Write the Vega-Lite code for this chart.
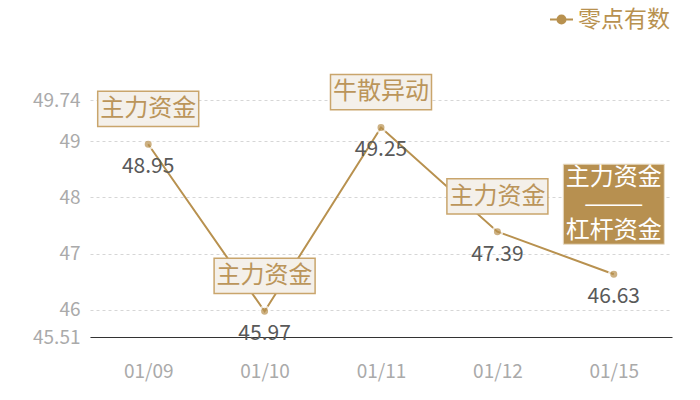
{
  "$schema": "https://vega.github.io/schema/vega-lite/v6.json",
  "width": 582,
  "height": 237,
  "autosize": {"type": "none"},
  "padding": {"left": 90, "top": 100, "right": 28, "bottom": 63},
  "background": "white",
  "config": {
    "view": {"stroke": null},
    "font": "Noto Sans CJK SC"
  },
  "data": {
    "values": [
      {"date": "01/09", "value": 48.95, "series": "零点有数", "note": "主力资金"},
      {"date": "01/10", "value": 45.97, "series": "零点有数", "note": "主力资金"},
      {"date": "01/11", "value": 49.25, "series": "零点有数", "note": "牛散异动"},
      {"date": "01/12", "value": 47.39, "series": "零点有数", "note": "主力资金"},
      {"date": "01/15", "value": 46.63, "series": "零点有数", "note": "主力资金\n———\n杠杆资金"}
    ]
  },
  "encoding": {
    "x": {
      "field": "date",
      "type": "ordinal",
      "sort": null,
      "scale": {"type": "point", "padding": 0.5},
      "axis": {
        "title": null,
        "labelAngle": 0,
        "ticks": false,
        "domainColor": "#333333",
        "domainWidth": 1,
        "labelColor": "#aaaaaa",
        "labelFontSize": 19,
        "labelBaseline": "middle",
        "labelPadding": 34,
        "grid": false
      }
    },
    "y": {
      "field": "value",
      "type": "quantitative",
      "scale": {"domain": [45.51, 49.74], "nice": false, "zero": false},
      "axis": {
        "title": null,
        "values": [45.51, 46, 47, 48, 49, 49.74],
        "labelExpr": "toString(datum.value)",
        "domain": false,
        "ticks": false,
        "labelColor": "#aaaaaa",
        "labelFontSize": 19,
        "labelPadding": 10,
        "gridColor": "#d6d6d6",
        "gridDash": [3, 3],
        "gridWidth": 1
      }
    }
  },
  "layer": [
    {
      "mark": {"type": "line", "strokeWidth": 2},
      "encoding": {
        "color": {
          "field": "series",
          "type": "nominal",
          "scale": {"range": ["#b8914f"]},
          "legend": {
            "title": null,
            "orient": "none",
            "legendX": 459,
            "legendY": -93,
            "symbolType": "M-1,0H-0.35M0.35,0H1M-0.35,0A0.35,0.35,0,1,0,0.35,0A0.35,0.35,0,1,0,-0.35,0Z",
            "symbolSize": 529,
            "symbolStrokeWidth": 2,
            "symbolFillColor": "#b8914f",
            "symbolStrokeColor": "#b8914f",
            "labelFontSize": 23,
            "labelColor": "#b8914f",
            "labelOffset": 4,
            "labelLimit": 200
          }
        }
      }
    },
    {
      "mark": {"type": "point", "filled": true, "size": 90, "fill": "#b8914f", "stroke": "white", "strokeWidth": 2.5, "strokeOpacity": 1}
    },
    {
      "mark": {"type": "text", "dy": 23, "fontSize": 21, "color": "#595959", "baseline": "middle"},
      "encoding": {"text": {"field": "value", "type": "quantitative", "format": ".2f"}}
    },
    {
      "transform": [{"filter": "datum.date != '01/15'"}],
      "mark": {
        "type": "point",
        "shape": "M-1,-1.05H1V-0.35H-1Z",
        "size": 10201,
        "filled": true,
        "fill": "#f4f0ea",
        "fillOpacity": 1,
        "stroke": "#c9a56c",
        "strokeWidth": 1.5,
        "strokeOpacity": 1
      }
    },
    {
      "transform": [{"filter": "datum.date != '01/15'"}],
      "mark": {"type": "text", "dy": -35, "fontSize": 24, "color": "#bb955a", "baseline": "middle"},
      "encoding": {"text": {"field": "note"}}
    },
    {
      "transform": [{"filter": "datum.date == '01/15'"}],
      "mark": {
        "type": "point",
        "shape": "M-1,-2.18H1V-0.594H-1Z",
        "size": 10201,
        "filled": true,
        "fill": "#b79050",
        "fillOpacity": 1,
        "stroke": "#e8dcc6",
        "strokeWidth": 1,
        "strokeOpacity": 1
      }
    },
    {
      "transform": [{"filter": "datum.date == '01/15'"}],
      "mark": {"type": "text", "dy": -96, "fontSize": 24, "color": "white", "baseline": "middle", "lineBreak": "\n", "lineHeight": 26.5},
      "encoding": {"text": {"field": "note"}}
    }
  ]
}
